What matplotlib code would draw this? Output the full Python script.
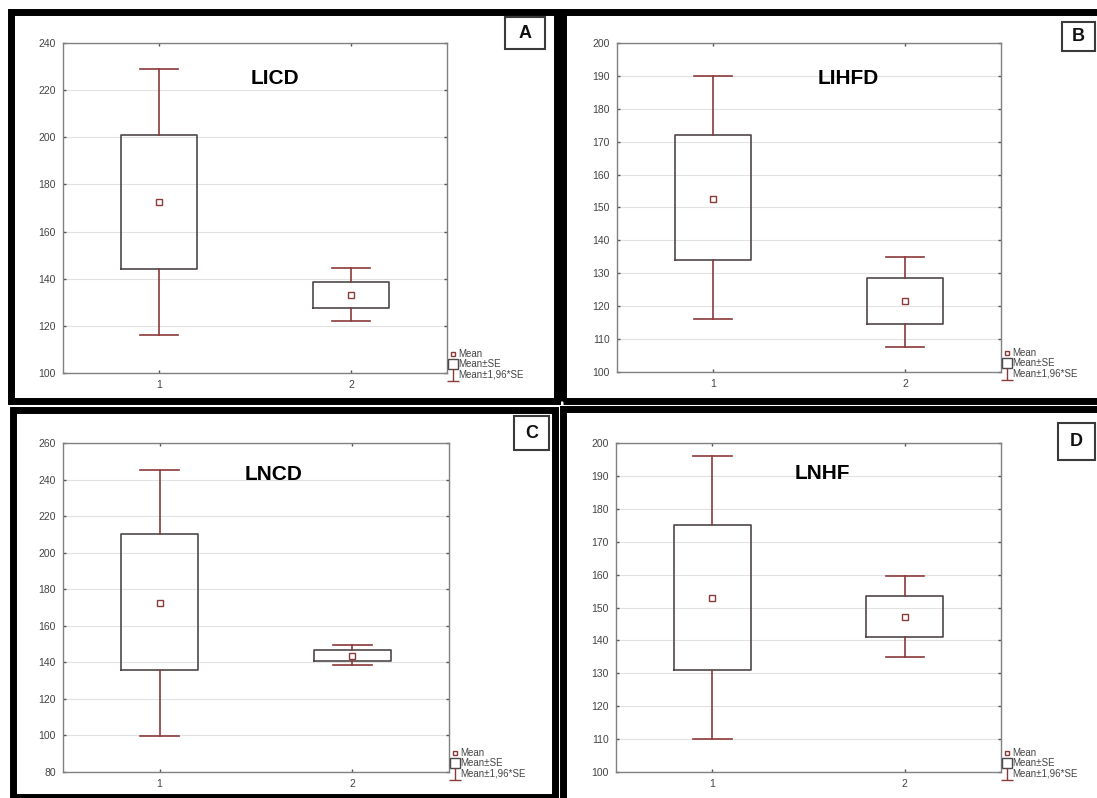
import matplotlib
matplotlib.use("Agg")
import matplotlib.pyplot as plt
from matplotlib.patches import Rectangle
from matplotlib.lines import Line2D
from matplotlib.path import Path

plt.rcParams['font.family'] = ['Liberation Sans', 'DejaVu Sans']

# values (group 1, group 2)
groups = [1, 2]
titles = ["LICD", "LIHFD", "LNCD", "LNHF"]
letters = ["A", "B", "C", "D"]

means = [[172.5, 133.0], [152.5, 121.5], [172.5, 143.5], [153.0, 147.0]]
se_lo = [[144.0, 127.5], [134.0, 114.5], [136.0, 141.0], [131.0, 141.0]]
se_hi = [[201.0, 138.5], [172.0, 128.5], [210.0, 146.5], [175.0, 153.5]]
ci_lo = [[116.0, 122.0], [116.0, 107.5], [99.5, 138.5], [110.0, 135.0]]
ci_hi = [[229.0, 144.5], [190.0, 135.0], [245.5, 149.5], [196.0, 159.5]]

ylims = [(100, 240), (100, 200), (80, 260), (100, 200)]
ysteps = [20, 10, 20, 10]

W, H = 1097, 798
BOX_C = '#504848'
WHISK_C = '#8b3a3a'
GRID_C = '#e2e2e2'
TXT_C = '#444444'


def fx(x):
    return x / W


def fy(y):
    return 1 - y / H


# inverted-T marker for the 1.96*SE legend entry
perp = Path([(0, 0.5), (0, -0.5), (-0.45, -0.5), (0.45, -0.5)],
            [Path.MOVETO, Path.LINETO, Path.MOVETO, Path.LINETO])

fig = plt.figure(figsize=(W / 100, H / 100), dpi=100)

# axes rectangles in pixels: left, top, right, bottom
ax_px = [(63, 43, 447, 373), (617, 43, 1001, 372),
         (63, 443, 449, 772), (616, 443, 1001, 772)]
# panel frames in pixels
frame_px = [(11, 12, 557, 401), (563, 12, 1102, 401),
            (13, 410, 555, 797), (563, 409, 1102, 803)]
# letter boxes in pixels
letter_px = [(505, 17, 545, 49), (1062, 22, 1095, 51),
             (514, 416, 549, 450), (1058, 423, 1095, 460)]
title_px = [(275, 78), (848, 78), (274, 474), (822, 473)]

for i in range(4):
    l, t, r, b = ax_px[i]
    ax = fig.add_axes([fx(l), fy(b), fx(r - l), (b - t) / H])
    stats = []
    for j in range(2):
        stats.append({'med': means[i][j], 'q1': se_lo[i][j], 'q3': se_hi[i][j],
                      'whislo': ci_lo[i][j], 'whishi': ci_hi[i][j],
                      'mean': means[i][j], 'fliers': []})
    ax.bxp(stats, positions=groups, widths=0.4, showmeans=True, showfliers=False,
           boxprops=dict(color=BOX_C, linewidth=1.2),
           whiskerprops=dict(color=WHISK_C, linewidth=1.2),
           capprops=dict(color=WHISK_C, linewidth=1.2),
           medianprops=dict(linewidth=0),
           meanprops=dict(marker='s', markersize=4, markerfacecolor='white',
                          markeredgecolor=WHISK_C, markeredgewidth=1.0),
           zorder=3)
    lo, hi = ylims[i]
    ax.set_ylim(lo, hi)
    ax.set_xlim(0.5, 2.5)
    ax.set_yticks(range(lo, hi + 1, ysteps[i]))
    ax.set_xticks(groups)
    ax.set_xticklabels([str(g) for g in groups])
    ax.yaxis.grid(True, color=GRID_C, linewidth=0.8)
    ax.set_axisbelow(True)
    for s in ax.spines.values():
        s.set_color('#808080')
        s.set_linewidth(1.0)
    ax.tick_params(direction='in', length=2.5, width=1, color='#555555',
                   labelsize=7.5, labelcolor=TXT_C, top=True, right=True, pad=5)

    handles = [
        Line2D([], [], ls='', marker='s', ms=3, mfc='white', mec=WHISK_C, mew=1),
        Line2D([], [], ls='', marker='s', ms=7, mfc='white', mec=BOX_C, mew=1),
        Line2D([], [], ls='', marker=perp, ms=9, mfc='none', mec=WHISK_C, mew=1),
    ]
    ax.legend(handles, ["Mean", "Mean\u00b1SE", "Mean\u00b11,96*SE"],
              loc='lower left', bbox_to_anchor=(1.0, -0.03), frameon=False,
              fontsize=7, handlelength=0.6, handletextpad=0.3,
              labelspacing=0.05, borderaxespad=0.2, borderpad=0.1,
              labelcolor=TXT_C)

    # panel frame
    fl, ft, fr, fb = frame_px[i]
    fig.add_artist(Rectangle((fx(fl), fy(fb)), fx(fr - fl), (fb - ft) / H,
                             transform=fig.transFigure, fill=False,
                             ec='black', lw=5, clip_on=False))
    # letter box
    bl, bt, br, bb = letter_px[i]
    fig.add_artist(Rectangle((fx(bl), fy(bb)), fx(br - bl), (bb - bt) / H,
                             transform=fig.transFigure, fill=True, fc='white',
                             ec='#3a3a3a', lw=1.5))
    fig.text(fx((bl + br) / 2), fy((bt + bb) / 2), letters[i], ha='center',
             va='center', fontsize=13, fontweight='bold', color='#111111')
    tx, ty = title_px[i]
    fig.text(fx(tx), fy(ty), titles[i], ha='center', va='center',
             fontsize=15, fontweight='bold', color='black')

fig.savefig("out.png", dpi=100, facecolor='white')
